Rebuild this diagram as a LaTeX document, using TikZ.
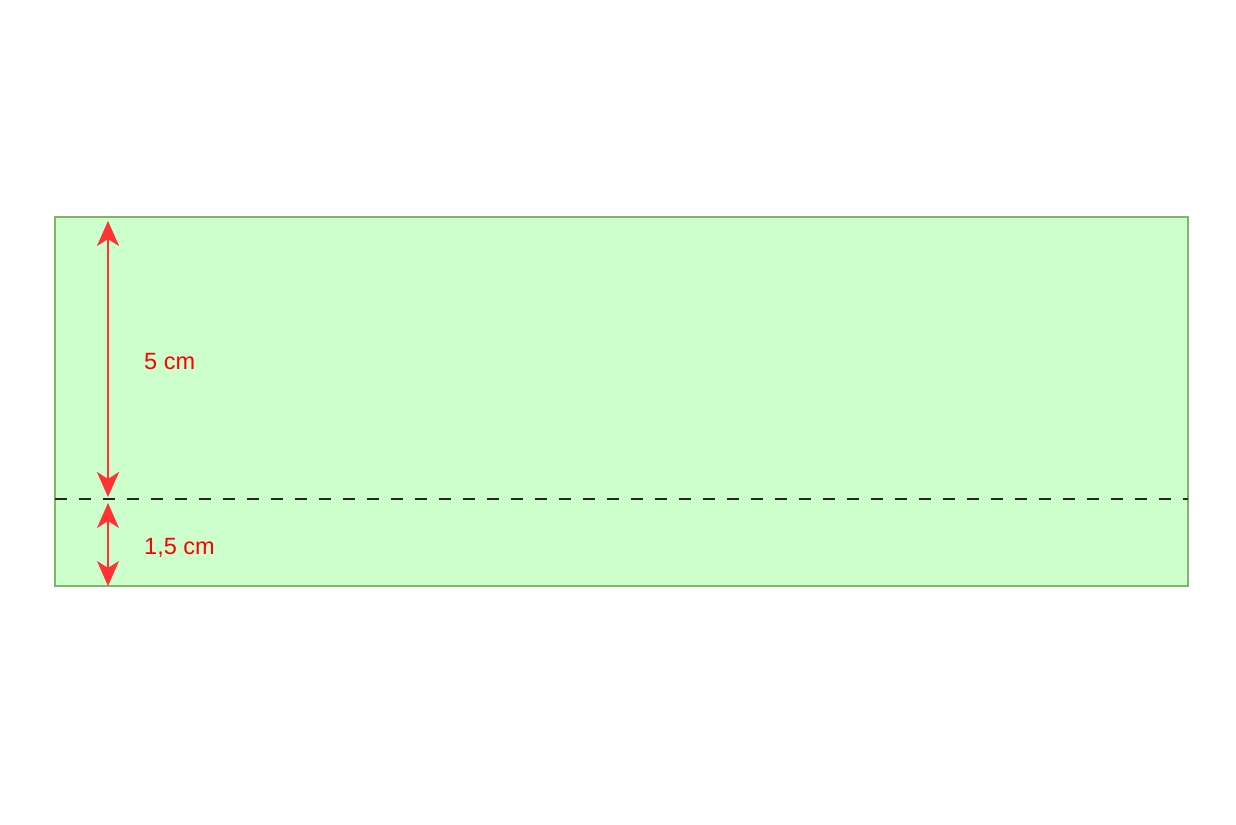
\documentclass[tikz,border=0pt]{standalone}
\usepackage{fontspec}
\setmainfont{Liberation Sans}
\usetikzlibrary{arrows.meta}
\definecolor{boxfill}{HTML}{CCFFCC}
\definecolor{boxline}{HTML}{82B366}
\definecolor{dimred}{HTML}{FF3333}
\begin{document}
\begin{tikzpicture}[x=1pt,y=-1pt,
  dimarrow/.style={draw=dimred,{Stealth[length=25pt,width=22pt,inset=7pt]}-{Stealth[length=25pt,width=22pt,inset=7pt]}},
  dimlabel/.style={text=red,font=\fontsize{23.5pt}{28pt}\selectfont,anchor=west,inner sep=0pt}]
\useasboundingbox (0,0) rectangle (1236,824);
\node[draw=boxline,fill=boxfill,line width=2pt,minimum width=1133pt,minimum height=369pt,inner sep=0pt] (box) at (621.5,401.5) {};
\coordinate (dl) at (53,499);
\coordinate (dr) at (1188,499);
\draw[black!85,line width=2pt,dash pattern=on 12pt off 12pt,dash phase=-2pt] (dl) -- (dr);
\coordinate (a1) at (108,221);
\coordinate (a2) at (108,497);
\coordinate (b1) at (108,503);
\coordinate (b2) at (108,586);
\draw[dimarrow,line width=2.8pt] (a1) -- (a2);
\draw[dimarrow,line width=1.2pt] (b1) -- (b2);
\node[dimlabel] (l1) at (144,362) {5 cm};
\node[dimlabel] (l2) at (144,548) {1,5 cm};
\end{tikzpicture}
\end{document}
